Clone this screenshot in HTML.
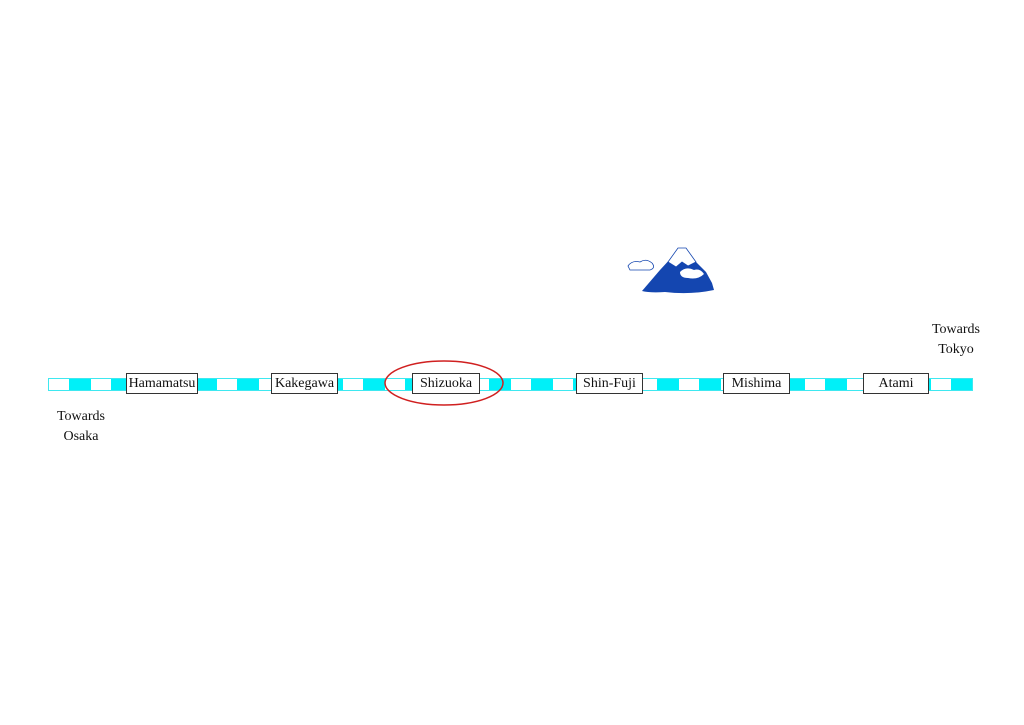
<!DOCTYPE html>
<html><head><style>
body{margin:0;width:1024px;height:725px;background:#fff;position:relative;overflow:hidden;font-family:"Liberation Serif",serif;}
.track{position:absolute;left:48px;top:378px;width:925px;height:13px;box-sizing:border-box;border:1px solid #3ee8f0;
background:repeating-linear-gradient(90deg,#fff 0 20px,#00f0f8 20px 42px);}
.st{position:absolute;top:373px;height:21px;box-sizing:border-box;border:1px solid #333;background:#fff;font-size:14px;line-height:19px;text-align:center;color:#111;white-space:nowrap;}
.t{position:absolute;font-size:14px;line-height:20px;text-align:center;color:#111;}
</style></head><body>
<div class="track"></div>
<div class="st" style="left:126px;width:72px">Hamamatsu</div>
<div class="st" style="left:271px;width:67px">Kakegawa</div>
<div class="st" style="left:412px;width:68px">Shizuoka</div>
<div class="st" style="left:576px;width:67px">Shin-Fuji</div>
<div class="st" style="left:723px;width:67px">Mishima</div>
<div class="st" style="left:863px;width:66px">Atami</div>
<div class="t" style="left:50px;top:407px;width:62px">Towards<br>Osaka</div>
<div class="t" style="left:925px;top:320px;width:62px">Towards<br>Tokyo</div>
<svg width="1024" height="725" style="position:absolute;left:0;top:0">
<ellipse cx="444" cy="383" rx="59" ry="22" fill="none" stroke="#d02020" stroke-width="1.5"/>
<path d="M642 291 L660 270 L672 257 L678 248 L686 248 L694 260 L706 272 L712 283 L714 290 Q690 295 665 292 Q650 293 642 291Z" fill="#1446b0"/>
<path d="M668 262 L678 248 L686 248 L696 262 L688 266 L682 262 L676 267 Z" fill="#fff" stroke="#1446b0" stroke-width="0.8"/>
<path d="M680 272 Q686 266 694 270 Q700 268 704 274 Q698 280 688 278 Q680 278 680 272Z" fill="#fff"/>
<path d="M628 266 Q632 260 640 262 Q646 258 652 263 Q656 268 650 270 L630 270 Z" fill="#fff" stroke="#1446b0" stroke-width="0.8"/>
</svg>
</body></html>
